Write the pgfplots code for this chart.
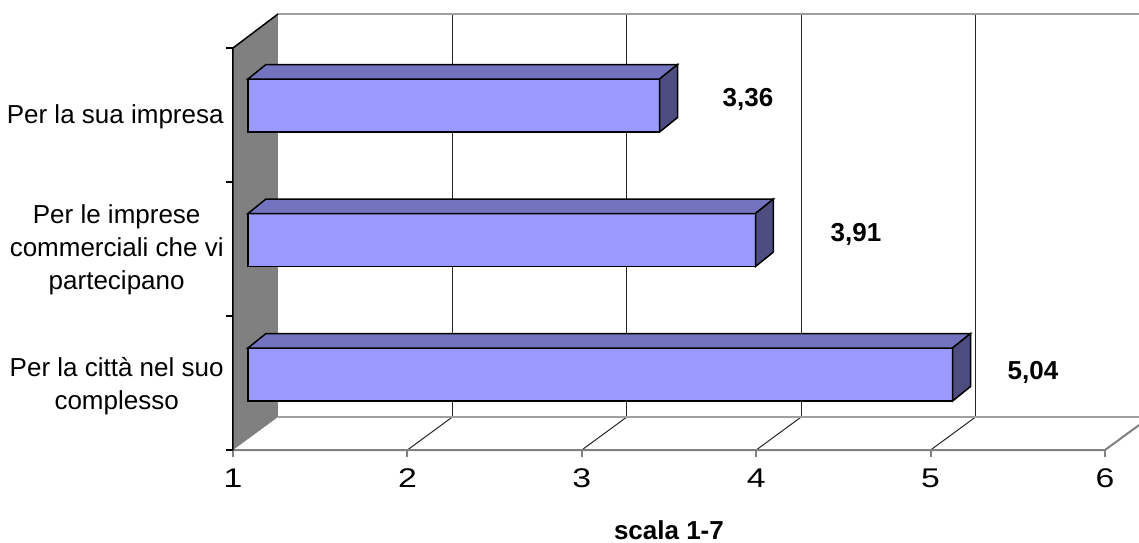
\documentclass[border=0pt]{standalone}
\usepackage{pgfplots}
\pgfplotsset{compat=1.18}
\usepackage{fontspec}
\setmainfont{Liberation Sans}
\definecolor{barfront}{HTML}{9999FF}
\definecolor{bartop}{HTML}{7373BF}
\definecolor{barside}{HTML}{4D4D80}
\definecolor{wall}{HTML}{808080}
\definecolor{edge}{HTML}{A0A0A0}
\newcommand\cf{\fontsize{13pt}{16.5pt}\selectfont}
\newcommand\tl[1]{\scalebox{1.25}[1]{#1}}
\begin{document}
\begin{tikzpicture}
\begin{axis}[
 x=87.2pt, y=0.5pt,
 xmin=1, xmax=6.195, ymin=0, ymax=436,
 clip=false,
 axis lines*=left,
 axis line style={draw=none},
 tick align=outside,
 major tick length=3.5pt,
 xtick={1,2,3,4,5,6},
 xticklabels={\tl{1},\tl{2},\tl{3},\tl{4},\tl{5},\tl{6}},
 ytick={0,134,268,402},
 yticklabels={},
 x tick style={draw=gray, line width=1pt},
 y tick style={draw=black, line width=0.75pt},
 tick label style={font=\cf},
 xticklabel style={yshift=-2.5pt, font=\fontsize{13.5pt}{16pt}\selectfont},
 /pgf/number format/assume math mode=true,
 xlabel={\textbf{scala 1-7}},
 xlabel style={at={(axis description cs:0.4812,-0.1835)}, anchor=center, font=\cf},
]
% side wall
\addplot[fill=wall, draw=none] coordinates {(1,0) (1,402) (1.258,436) (1.258,33)} -- cycle;
% back wall gridlines
\draw[black!85, line width=0.5pt] (axis cs:2.258,33) -- (axis cs:2.258,436);
\draw[black!85, line width=0.5pt] (axis cs:3.258,33) -- (axis cs:3.258,436);
\draw[black!85, line width=0.5pt] (axis cs:4.258,33) -- (axis cs:4.258,436);
\draw[black!85, line width=0.5pt] (axis cs:5.258,33) -- (axis cs:5.258,436);
% floor diagonals
\draw[black!85, line width=0.5pt] (axis cs:2,0) -- (axis cs:2.258,33);
\draw[black!85, line width=0.5pt] (axis cs:3,0) -- (axis cs:3.258,33);
\draw[black!85, line width=0.5pt] (axis cs:4,0) -- (axis cs:4.258,33);
\draw[black!85, line width=0.5pt] (axis cs:5,0) -- (axis cs:5.258,33);
% frame edges
\draw[edge, line width=1pt] (axis cs:1.258,436) -- (axis cs:6.195,436);
\draw[edge, line width=1pt] (axis cs:1.258,33) -- (axis cs:6.195,33);
\draw[gray, line width=1pt] (axis cs:1,0) -- (axis cs:6,0) -- (axis cs:6.195,24.9);
\draw[black, line width=0.75pt] (axis cs:1,0) -- (axis cs:1,402) -- (axis cs:1.258,436);
% bar: Per la sua impresa = 3.36
\addplot[fill=barfront, draw=black, line width=0.75pt] coordinates {(1.086,318) (3.446,318) (3.446,371) (1.086,371)} -- cycle;
\addplot[fill=bartop, draw=black, line width=0.75pt] coordinates {(1.086,371) (3.446,371) (3.549,385.5) (1.189,385.5)} -- cycle;
\addplot[fill=barside, draw=black, line width=0.75pt] coordinates {(3.446,318) (3.549,332.5) (3.549,385.5) (3.446,371)} -- cycle;
% bar: Per le imprese commerciali = 3.91
\addplot[fill=barfront, draw=black, line width=0.75pt] coordinates {(1.086,183.5) (3.996,183.5) (3.996,236.5) (1.086,236.5)} -- cycle;
\addplot[fill=bartop, draw=black, line width=0.75pt] coordinates {(1.086,236.5) (3.996,236.5) (4.099,251) (1.189,251)} -- cycle;
\addplot[fill=barside, draw=black, line width=0.75pt] coordinates {(3.996,183.5) (4.099,198) (4.099,251) (3.996,236.5)} -- cycle;
% bar: Per la citta = 5.04
\addplot[fill=barfront, draw=black, line width=0.75pt] coordinates {(1.086,49) (5.126,49) (5.126,102) (1.086,102)} -- cycle;
\addplot[fill=bartop, draw=black, line width=0.75pt] coordinates {(1.086,102) (5.126,102) (5.229,116.5) (1.189,116.5)} -- cycle;
\addplot[fill=barside, draw=black, line width=0.75pt] coordinates {(5.126,49) (5.229,63.5) (5.229,116.5) (5.126,102)} -- cycle;
% value labels
\node[font=\cf\bfseries, inner sep=0pt] at (axis cs:3.953,351) {3,36};
\node[font=\cf\bfseries, inner sep=0pt] at (axis cs:4.572,216) {3,91};
\node[font=\cf\bfseries, inner sep=0pt] at (axis cs:5.587,78) {5,04};
% category labels
\node[font=\cf, align=center, anchor=east, inner sep=0pt] at (axis cs:0.9484,333) {Per la sua impresa};
\node[font=\cf, align=center, anchor=east, inner sep=0pt] at (axis cs:0.9484,200) {Per le imprese\\commerciali che vi\\partecipano};
\node[font=\cf, align=center, anchor=east, inner sep=0pt] at (axis cs:0.9484,63.5) {Per la città nel suo\\complesso};
\coordinate (bbA) at (axis cs:-0.336,-92);
\coordinate (bbB) at (axis cs:6.195,450);
\end{axis}
\pgfresetboundingbox
\useasboundingbox (bbA) rectangle (bbB);
\end{tikzpicture}
\end{document}
